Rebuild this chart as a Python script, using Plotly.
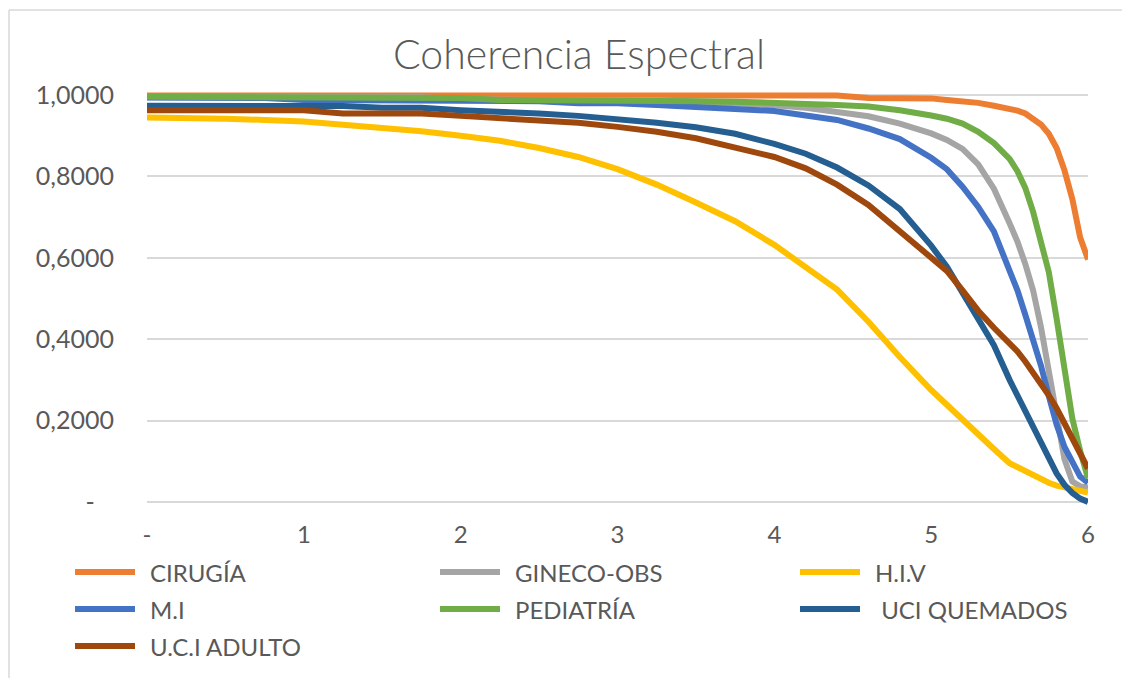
import plotly.graph_objects as go

# Frequency axis (shared by every series)
freq = [0, 0.25, 0.5, 0.75, 1.0, 1.25, 1.5, 1.75, 2.0, 2.25, 2.5, 2.75, 3.0, 3.25,
        3.5, 3.75, 4.0, 4.2, 4.4, 4.6, 4.8, 5.0, 5.1, 5.2, 5.3, 5.4, 5.5, 5.55,
        5.6, 5.65, 5.7, 5.75, 5.8, 5.85, 5.9, 5.95, 6.0]

cirugia = [0.999, 0.999, 0.999, 0.999, 0.999, 0.999, 0.999, 0.999, 0.999, 0.999,
           0.999, 0.999, 0.999, 0.999, 0.999, 0.999, 0.999, 0.999, 0.999, 0.993,
           0.993, 0.992, 0.988, 0.986, 0.981, 0.974, 0.967, 0.962, 0.955, 0.942,
           0.928, 0.905, 0.870, 0.815, 0.745, 0.650, 0.596]

gineco_obs = [0.995, 0.995, 0.995, 0.995, 0.995, 0.995, 0.995, 0.995, 0.990, 0.988,
              0.988, 0.988, 0.988, 0.988, 0.984, 0.980, 0.975, 0.969, 0.960, 0.948,
              0.930, 0.906, 0.890, 0.868, 0.830, 0.770, 0.685, 0.640, 0.585, 0.520,
              0.430, 0.325, 0.210, 0.105, 0.050, 0.038, 0.035]

hiv = [0.945, 0.945, 0.942, 0.939, 0.935, 0.927, 0.920, 0.911, 0.900, 0.888,
       0.870, 0.848, 0.818, 0.780, 0.736, 0.690, 0.632, 0.578, 0.522, 0.443,
       0.356, 0.275, 0.238, 0.200, 0.164, 0.130, 0.095, 0.085, 0.074, 0.063,
       0.054, 0.047, 0.040, 0.035, 0.031, 0.027, 0.023]

mi = [0.994, 0.994, 0.994, 0.993, 0.988, 0.988, 0.988, 0.988, 0.988, 0.987,
      0.985, 0.980, 0.980, 0.976, 0.971, 0.966, 0.961, 0.950, 0.939, 0.918,
      0.892, 0.846, 0.818, 0.775, 0.725, 0.665, 0.570, 0.520, 0.460, 0.400,
      0.335, 0.260, 0.190, 0.135, 0.095, 0.062, 0.047]

pediatria = [0.996, 0.996, 0.996, 0.996, 0.996, 0.996, 0.996, 0.996, 0.993, 0.988,
             0.988, 0.988, 0.988, 0.988, 0.985, 0.984, 0.982, 0.979, 0.976, 0.972,
             0.963, 0.950, 0.942, 0.930, 0.910, 0.882, 0.843, 0.813, 0.772, 0.713,
             0.640, 0.565, 0.450, 0.315, 0.205, 0.125, 0.058]

uci_quemados = [0.974, 0.974, 0.974, 0.974, 0.974, 0.973, 0.969, 0.969, 0.963, 0.960,
                0.955, 0.949, 0.941, 0.932, 0.921, 0.905, 0.880, 0.856, 0.822, 0.778,
                0.720, 0.630, 0.578, 0.512, 0.450, 0.385, 0.300, 0.262, 0.222, 0.183,
                0.142, 0.105, 0.070, 0.042, 0.022, 0.008, 0.0]

uci_adulto = [0.963, 0.963, 0.963, 0.963, 0.963, 0.955, 0.955, 0.955, 0.949, 0.943,
              0.938, 0.932, 0.922, 0.910, 0.894, 0.872, 0.848, 0.820, 0.780, 0.730,
              0.667, 0.601, 0.568, 0.520, 0.470, 0.428, 0.392, 0.370, 0.345, 0.318,
              0.290, 0.262, 0.230, 0.193, 0.152, 0.115, 0.082]

series_names = ["CIRUGÍA", "GINECO-OBS", "H.I.V", "M.I", "PEDIATRÍA",
                "\u00a0UCI QUEMADOS", "U.C.I ADULTO"]
series_values = [cirugia, gineco_obs, hiv, mi, pediatria, uci_quemados, uci_adulto]
series_colors = ["#ED7D31", "#A5A5A5", "#FFC000", "#4472C4", "#70AD47",
                 "#255E91", "#9E480E"]

y_ticks = [0, 0.2, 0.4, 0.6, 0.8, 1.0]
y_ticktext = ["-\u00a0\u00a0\u00a0", "0,2000", "0,4000", "0,6000", "0,8000", "1,0000"]
x_ticks = [0, 1, 2, 3, 4, 5, 6]
x_ticktext = ["-", "1", "2", "3", "4", "5", "6"]

FONT = "Lato, Calibri, 'Open Sans', sans-serif"
TEXT_COLOR = "#595959"
GRID = "#D9D9D9"

W, H = 1122, 678
L, R, T, B = 147, 34, 87, 168
pw, ph = W - L - R, H - T - B


def px_to_paper_x(px):
    return (px - L) / pw


def px_to_paper_y(py):
    return (H - B - py) / ph


fig = go.Figure()
for name, vals, color in zip(series_names, series_values, series_colors):
    fig.add_trace(go.Scatter(
        x=freq, y=vals, name=name, mode="lines",
        line=dict(color=color, width=6),
        showlegend=False,
    ))

# Legend laid out in three columns below the plot
col_x = [72, 437, 797]
row_y = [572, 609, 646]
sample_len = 66
shapes = []
annotations = []
for i, (name, color) in enumerate(zip(series_names, series_colors)):
    cx = col_x[i % 3]
    cy = row_y[i // 3]
    shapes.append(dict(
        type="line", xref="paper", yref="paper",
        x0=px_to_paper_x(cx + 3), x1=px_to_paper_x(cx + sample_len - 3),
        y0=px_to_paper_y(cy), y1=px_to_paper_y(cy),
        line=dict(color=color, width=6),
    ))
    annotations.append(dict(
        text=name, xref="paper", yref="paper",
        x=px_to_paper_x(cx + sample_len + 10), y=px_to_paper_y(cy),
        xanchor="left", yanchor="middle", showarrow=False,
        font=dict(family=FONT, size=24, color=TEXT_COLOR),
    ))

# Chart-area frame: left and top edges (the others fall outside the view)
shapes.append(dict(
    type="line", xref="paper", yref="paper",
    x0=px_to_paper_x(9), x1=px_to_paper_x(9),
    y0=px_to_paper_y(10), y1=px_to_paper_y(H + 5),
    line=dict(color=GRID, width=1.5), layer="below",
))
shapes.append(dict(
    type="line", xref="paper", yref="paper",
    x0=px_to_paper_x(9), x1=px_to_paper_x(W + 5),
    y0=px_to_paper_y(10), y1=px_to_paper_y(10),
    line=dict(color=GRID, width=1.5), layer="below",
))

fig.update_layout(
    width=W, height=H,
    margin=dict(l=L, r=R, t=T, b=B, autoexpand=False),
    paper_bgcolor="white", plot_bgcolor="white",
    font=dict(family=FONT, size=24, color=TEXT_COLOR),
    title=dict(
        text="Coherencia Espectral",
        x=579 / W, xref="container", xanchor="center",
        y=1 - 55 / H, yref="container", yanchor="middle",
        font=dict(family=FONT, size=41, color=TEXT_COLOR, weight=300),
    ),
    xaxis=dict(
        range=[0, 6], tickvals=x_ticks, ticktext=x_ticktext,
        showgrid=False, zeroline=False, showline=False, ticks="",
        ticklabelstandoff=8,
    ),
    yaxis=dict(
        range=[-0.02, 1.02], tickvals=y_ticks, ticktext=y_ticktext,
        showgrid=True, gridcolor=GRID, gridwidth=1.5,
        zeroline=False, showline=False, ticks="",
        tickfont=dict(size=25),
        ticklabelstandoff=32,
    ),
    shapes=shapes,
    annotations=annotations,
    showlegend=False,
)

fig.write_html("out.html")
